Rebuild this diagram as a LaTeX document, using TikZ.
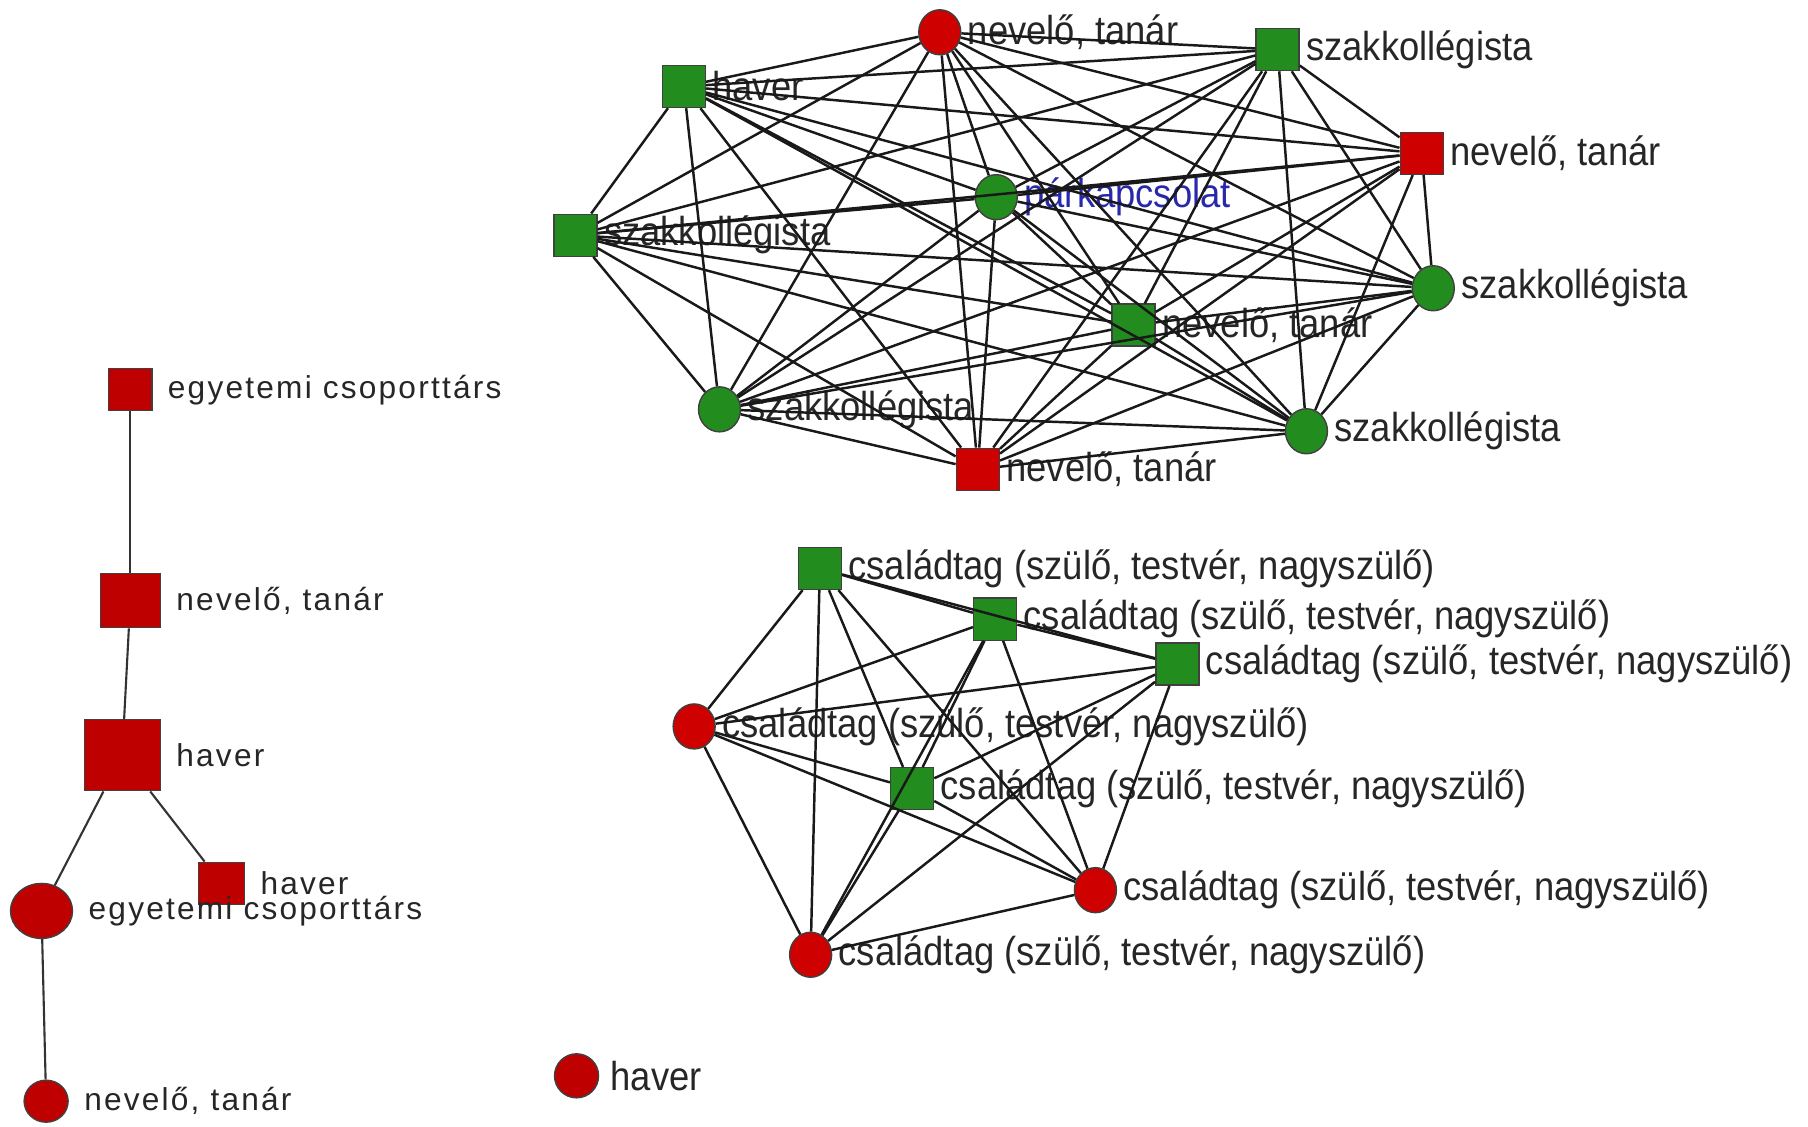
\documentclass[tikz,border=0pt]{standalone}
\usepackage{fontspec}
\setmainfont{Liberation Sans}
\newfontfamily\netfont{Liberation Sans}[FakeStretch=0.9]
\newfontfamily\treefont{Liberation Sans}[LetterSpace=7]
\usepackage{tikz}
\usetikzlibrary{
  positioning,
  shapes.geometric,
}
\definecolor{nodered}{RGB}{206, 0, 0}
\definecolor{treered}{RGB}{190, 0, 0}
\definecolor{nodegreen}{RGB}{34, 140, 30}
\definecolor{linkblue}{RGB}{40, 40, 170}
\tikzstyle{sq} = [
  draw=black!75,
  thin,
  rectangle,
  inner sep=0pt,
  minimum width=4.3mm,
  minimum height=4.2mm,
]
\tikzstyle{dot} = [
  draw=black!75,
  thin,
  ellipse,
  inner sep=0pt,
  minimum width=4.2mm,
  minimum height=4.5mm,
]
\tikzstyle{netlabel} = [
  font=\netfont\fontsize{11.5}{13}\selectfont,
  text=black!85,
  inner sep=0.5pt,
]
\tikzstyle{treelabel} = [
  font=\treefont\fontsize{9}{11}\selectfont,
  text=black!85,
  inner sep=0.5pt,
]
\tikzstyle{edge} = [
  line width=0.7pt,
  black!90,
]

\begin{document}
\begin{tikzpicture}[x=0.1153mm, y=-0.1153mm, label distance=0.4mm]

        \useasboundingbox (0,0) rectangle (1568,977);

        % left tree
        \node[sq,fill=treered] (egy1) at (113,338) [label={[treelabel,label distance=1.3mm]right:egyetemi csoporttárs}] {};
        \node[sq,fill=treered,minimum width=6.0mm,minimum height=5.4mm] (nev1) at (113,521) [label={[treelabel,label distance=1.3mm]right:nevelő, tanár}] {};
        \node[sq,fill=treered,minimum width=7.6mm,minimum height=7.1mm] (hav1) at (106,655) [label={[treelabel,label distance=1.3mm]right:haver}] {};
        \node[sq,fill=treered,minimum width=4.6mm,minimum height=4.2mm] (hav2) at (192,766) [label={[treelabel,label distance=1.3mm]right:haver}] {};
        \node[dot,fill=treered,minimum width=6.2mm,minimum height=5.5mm] (egy2) at (36,790) [label={[treelabel,label distance=1.3mm]right:egyetemi csoporttárs}] {};
        \node[dot,fill=treered,minimum width=4.4mm,minimum height=4.2mm] (nev2) at (40,955) [label={[treelabel,label distance=1.3mm]right:nevelő, tanár}] {};

        \draw[edge,black!80,line width=0.6pt] (egy1) -- (nev1);
        \draw[edge,black!80,line width=0.6pt] (nev1) -- (hav1);
        \draw[edge,black!80,line width=0.6pt] (hav1) -- (egy2);
        \draw[edge,black!80,line width=0.6pt] (hav1) -- (hav2);
        \draw[edge,black!80,line width=0.6pt] (egy2) -- (nev2);

        % lone node
        \node[dot,fill=treered,minimum width=4.4mm,minimum height=4.4mm] (hav3) at (500,933) [label={[netlabel,label distance=0.9mm]right:haver}] {};

        % top network
        \node[dot,fill=nodered] (net1) at (815,28) [label={[netlabel]right:nevelő, tanár}] {};
        \node[sq,fill=nodegreen] (net2) at (1108,43) [label={[netlabel]right:szakkollégista}] {};
        \node[sq,fill=nodegreen] (net3) at (593,75) [label={[netlabel]right:haver}] {};
        \node[sq,fill=nodered] (net4) at (1233,133) [label={[netlabel]right:nevelő, tanár}] {};
        \node[dot,fill=nodegreen] (net5) at (864,171) [label={[netlabel,text=linkblue]right:párkapcsolat}] {};
        \node[sq,fill=nodegreen] (net6) at (499,204) [label={[netlabel]right:szakkollégista}] {};
        \node[dot,fill=nodegreen] (net7) at (1243,250) [label={[netlabel]right:szakkollégista}] {};
        \node[sq,fill=nodegreen] (net8) at (983,282) [label={[netlabel]right:nevelő, tanár}] {};
        \node[dot,fill=nodegreen] (net9) at (624,355) [label={[netlabel]right:szakkollégista}] {};
        \node[dot,fill=nodegreen] (net10) at (1133,374) [label={[netlabel]right:szakkollégista}] {};
        \node[sq,fill=nodered] (net11) at (848,407) [label={[netlabel]right:nevelő, tanár}] {};

        % every pair is linked
        \foreach \i in {1,...,10} {
            \pgfmathtruncatemacro{\k}{\i+1}
            \foreach \j in {\k,...,11} {
                \draw[edge] (net\i) -- (net\j);
            }
        }

        % family network
        \node[sq,fill=nodegreen] (csal1) at (711,493) [label={[netlabel]right:családtag (szülő, testvér, nagyszülő)}] {};
        \node[sq,fill=nodegreen] (csal2) at (863,537) [label={[netlabel]right:családtag (szülő, testvér, nagyszülő)}] {};
        \node[sq,fill=nodegreen] (csal3) at (1021,576) [label={[netlabel]right:családtag (szülő, testvér, nagyszülő)}] {};
        \node[dot,fill=nodered] (csal4) at (602,630) [label={[netlabel]right:családtag (szülő, testvér, nagyszülő)}] {};
        \node[sq,fill=nodegreen] (csal5) at (791,684) [label={[netlabel]right:családtag (szülő, testvér, nagyszülő)}] {};
        \node[dot,fill=nodered] (csal6) at (950,772) [label={[netlabel]right:családtag (szülő, testvér, nagyszülő)}] {};
        \node[dot,fill=nodered] (csal7) at (703,828) [label={[netlabel]right:családtag (szülő, testvér, nagyszülő)}] {};

        \foreach \i in {1,...,6} {
            \pgfmathtruncatemacro{\k}{\i+1}
            \foreach \j in {\k,...,7} {
                \draw[edge] (csal\i) -- (csal\j);
            }
        }

\end{tikzpicture}
\end{document}
